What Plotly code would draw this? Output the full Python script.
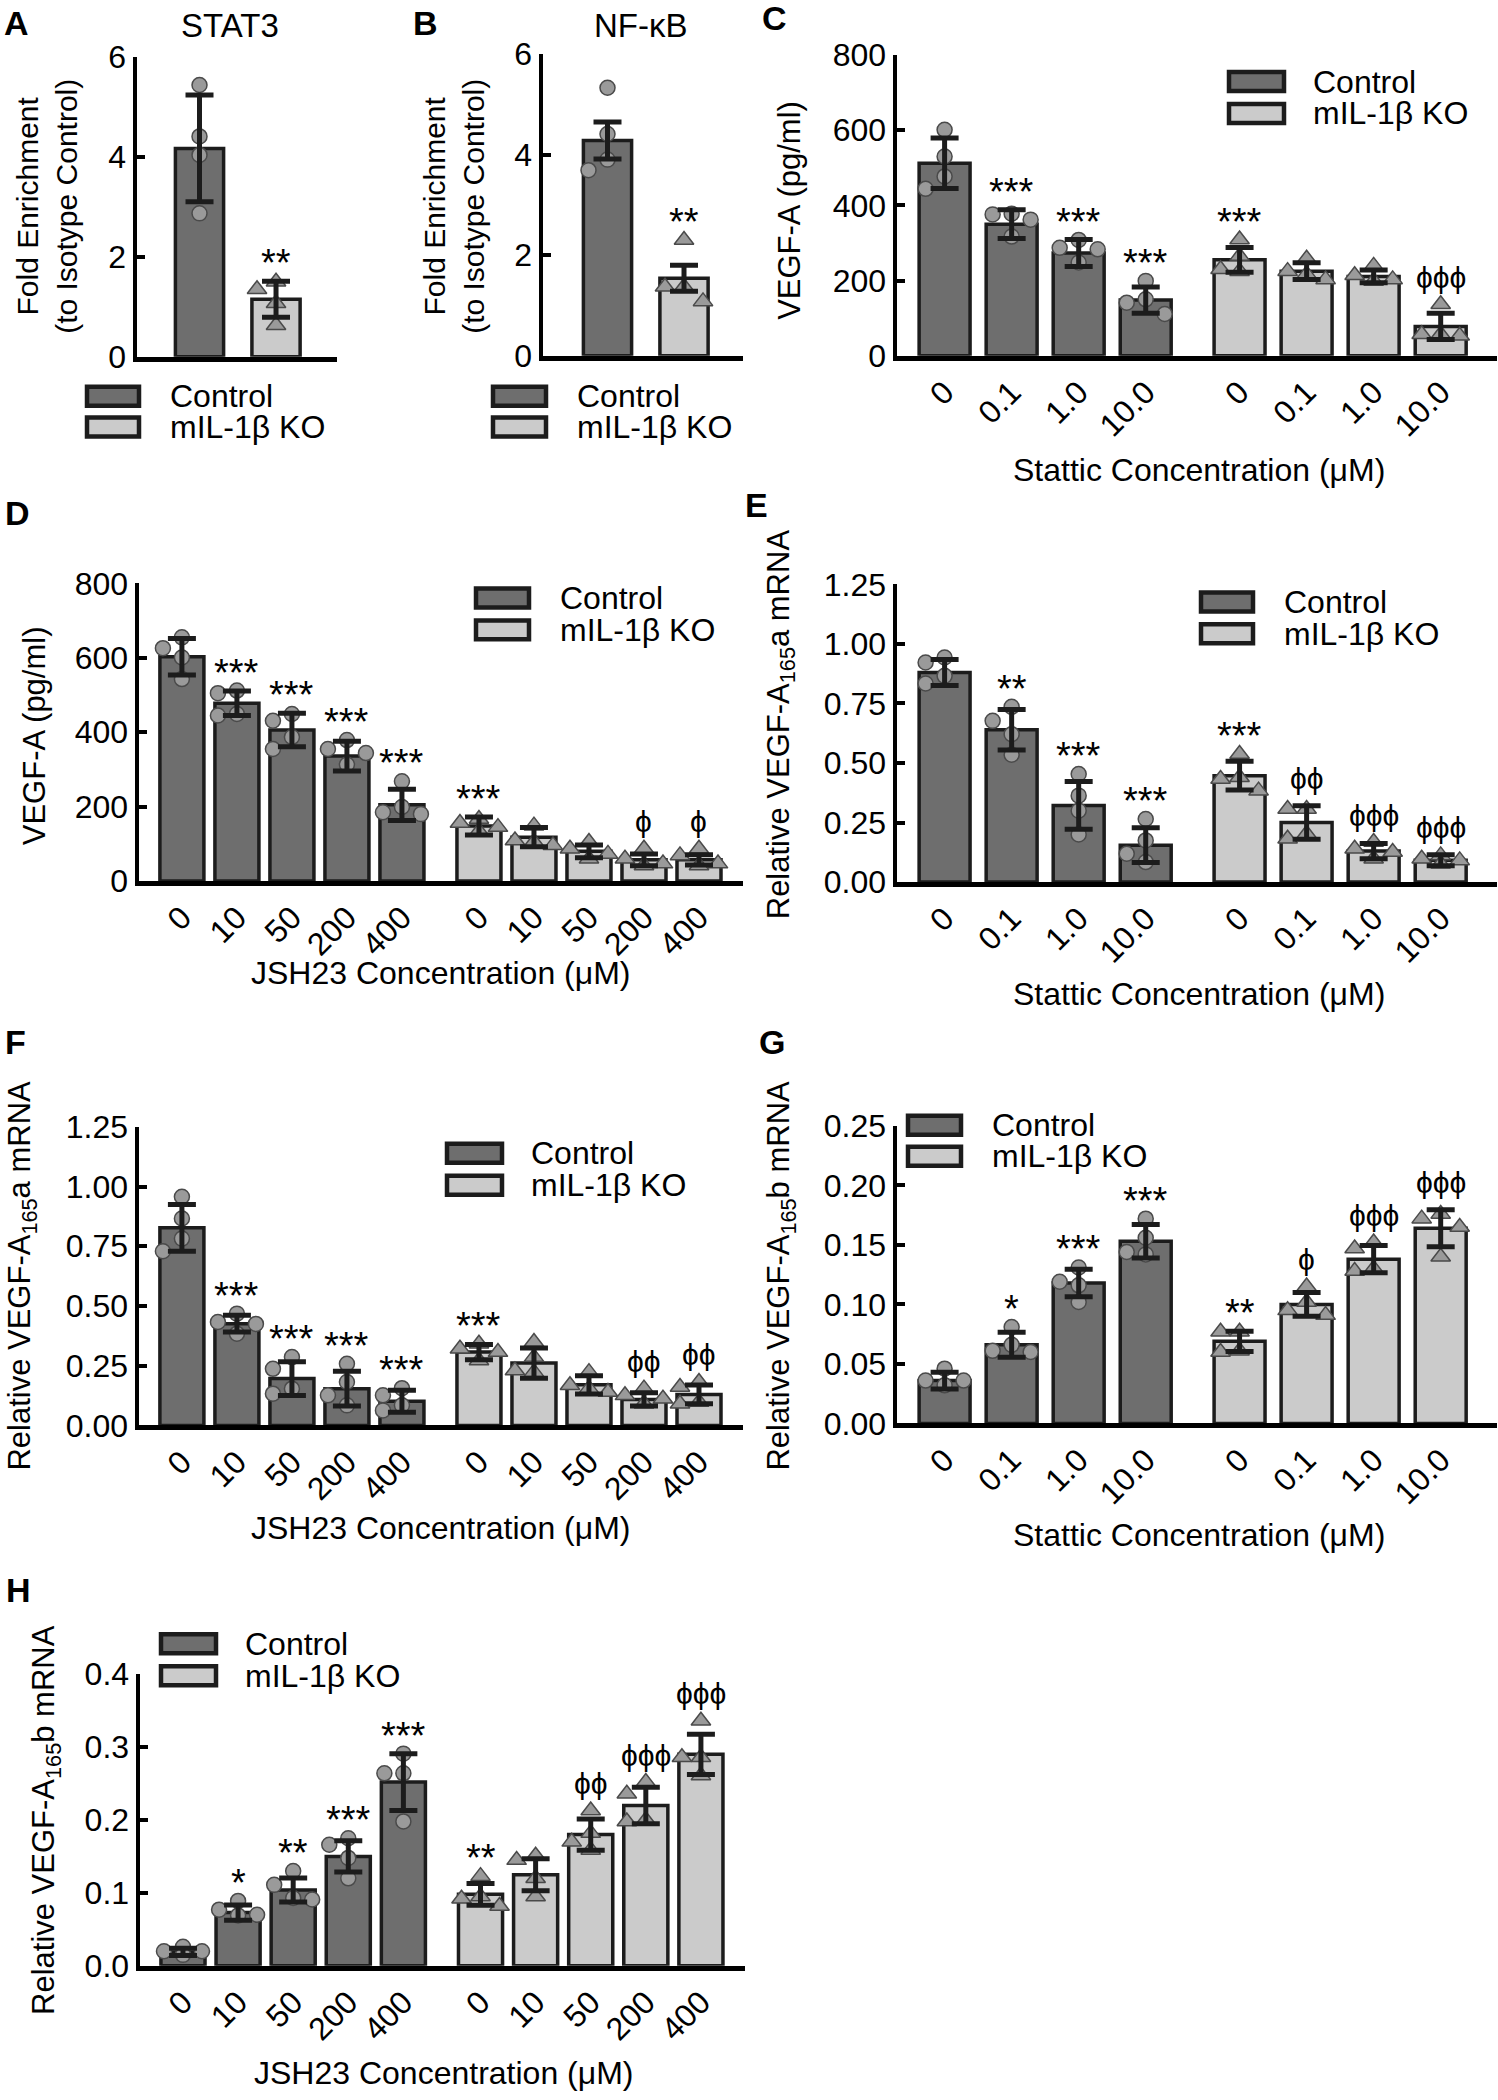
import plotly.graph_objects as go

W, H = 1498, 2100
FONT = "Liberation Sans, Arial, DejaVu Sans, sans-serif"

# ------------------------------------------------------------------
# Values
# ------------------------------------------------------------------
groups = ["Control", "mIL-1β KO"]
stattic_ticks = ["0", "0.1", "1.0", "10.0"]
jsh23_ticks = ["0", "10", "50", "200", "400"]

yv_fold = [0, 2, 4, 6];                    yt_fold = ["0", "2", "4", "6"]
yv_pg = [0, 200, 400, 600, 800];           yt_pg = ["0", "200", "400", "600", "800"]
yv_a = [0, 0.25, 0.5, 0.75, 1.0, 1.25];    yt_a = ["0.00", "0.25", "0.50", "0.75", "1.00", "1.25"]
yv_g = [0, 0.05, 0.10, 0.15, 0.20, 0.25];  yt_g = ["0.00", "0.05", "0.10", "0.15", "0.20", "0.25"]
yv_h = [0, 0.1, 0.2, 0.3, 0.4];            yt_h = ["0.0", "0.1", "0.2", "0.3", "0.4"]

# A  STAT3
A_ctrl_mean = [4.17]; A_ctrl_sd = [1.07]; A_ctrl_pts = [[5.44, 4.41, 4.04, 2.87]]
A_ko_mean = [1.15];   A_ko_sd = [0.36];   A_ko_pts = [[1.35, 1.50, 1.07, 0.63]]
A_ctrl_sig = [""];    A_ko_sig = ["**"]

# B  NF-kB
B_ctrl_mean = [4.28]; B_ctrl_sd = [0.37]; B_ctrl_pts = [[5.33, 4.41, 3.90, 3.69]]
B_ko_mean = [1.54];   B_ko_sd = [0.26];   B_ko_pts = [[2.30, 1.37, 1.37, 1.08]]
B_ctrl_sig = [""];    B_ko_sig = ["**"]

# C  VEGF-A protein, Stattic
C_ctrl_mean = [512, 350, 273, 148]
C_ctrl_sd = [67, 38, 36, 35]
C_ctrl_pts = [[601, 530, 477, 444], [378, 376, 362, 317], [308, 287, 283, 248], [199, 150, 141, 111]]
C_ko_mean = [255, 225, 211, 78]
C_ko_sd = [33, 22, 17, 35]
C_ko_pts = [[309, 265, 230, 225], [258, 225, 217, 203], [239, 214, 203, 199], [137, 57, 57, 53]]
C_ctrl_sig = ["", "***", "***", "***"]
C_ko_sig = ["***", "", "", "ϕϕϕ"]

# D  VEGF-A protein, JSH23
D_ctrl_mean = [603, 478, 406, 336, 205]
D_ctrl_sd = [49, 33, 45, 40, 42]
D_ctrl_pts = [[655, 626, 601, 543], [512, 505, 449, 445], [449, 431, 387, 355],
              [379, 355, 344, 313], [268, 199, 185, 180]]
D_ko_mean = [148, 118, 80, 57, 57]
D_ko_sd = [24, 26, 17, 16, 14]
D_ko_pts = [[167, 156, 145, 134], [149, 109, 105, 96], [105, 87, 73, 60],
            [87, 60, 47, 42], [87, 69, 47, 42]]
D_ctrl_sig = ["", "***", "***", "***", "***"]
D_ko_sig = ["***", "", "", "ϕ", "ϕ"]

# E  VEGF-A165a mRNA, Stattic
E_ctrl_mean = [0.880, 0.640, 0.322, 0.155]
E_ctrl_sd = [0.055, 0.085, 0.100, 0.073]
E_ctrl_pts = [[0.943, 0.922, 0.866, 0.834], [0.736, 0.677, 0.621, 0.535],
              [0.454, 0.363, 0.300, 0.200], [0.265, 0.175, 0.119, 0.084]]
E_ko_mean = [0.447, 0.250, 0.130, 0.092]
E_ko_sd = [0.060, 0.070, 0.032, 0.023]
E_ko_pts = [[0.538, 0.440, 0.433, 0.384], [0.307, 0.307, 0.203, 0.182],
            [0.168, 0.140, 0.126, 0.098], [0.112, 0.098, 0.091, 0.077]]
E_ctrl_sig = ["", "**", "***", "***"]
E_ko_sig = ["***", "ϕϕ", "ϕϕϕ", "ϕϕϕ"]

# F  VEGF-A165a mRNA, JSH23
F_ctrl_mean = [0.827, 0.426, 0.196, 0.154, 0.101]
F_ctrl_sd = [0.098, 0.035, 0.071, 0.073, 0.046]
F_ctrl_pts = [[0.957, 0.866, 0.782, 0.729], [0.468, 0.433, 0.425, 0.384],
              [0.286, 0.237, 0.154, 0.133], [0.258, 0.182, 0.126, 0.084],
              [0.156, 0.126, 0.084, 0.063]]
F_ko_mean = [0.307, 0.261, 0.170, 0.109, 0.130]
F_ko_sd = [0.032, 0.063, 0.038, 0.028, 0.039]
F_ko_pts = [[0.342, 0.321, 0.307, 0.272], [0.349, 0.286, 0.230, 0.223],
            [0.223, 0.168, 0.154, 0.140], [0.154, 0.126, 0.112, 0.091],
            [0.182, 0.161, 0.098, 0.091]]
F_ctrl_sig = ["", "***", "***", "***", "***"]
F_ko_sig = ["***", "", "", "ϕϕ", "ϕϕ"]

# G  VEGF-A165b mRNA, Stattic
G_ctrl_mean = [0.036, 0.066, 0.118, 0.153]
G_ctrl_sd = [0.007, 0.0105, 0.0115, 0.014]
G_ctrl_pts = [[0.046, 0.036, 0.036, 0.032], [0.081, 0.066, 0.061, 0.060],
              [0.131, 0.119, 0.116, 0.102], [0.172, 0.156, 0.144, 0.142]]
G_ko_mean = [0.069, 0.100, 0.138, 0.164]
G_ko_sd = [0.0085, 0.010, 0.0115, 0.0155]
G_ko_pts = [[0.077, 0.077, 0.061, 0.060], [0.115, 0.102, 0.095, 0.091],
            [0.152, 0.147, 0.130, 0.128], [0.176, 0.172, 0.165, 0.140]]
G_ctrl_sig = ["", "*", "***", "***"]
G_ko_sig = ["**", "ϕ", "ϕϕϕ", "ϕϕϕ"]

# H  VEGF-A165b mRNA, JSH23
H_ctrl_mean = [0.019, 0.073, 0.104, 0.150, 0.252]
H_ctrl_sd = [0.005, 0.0105, 0.0165, 0.0215, 0.039]
H_ctrl_pts = [[0.026, 0.020, 0.020, 0.015], [0.089, 0.077, 0.070, 0.069],
              [0.130, 0.111, 0.093, 0.091], [0.175, 0.166, 0.148, 0.120],
              [0.291, 0.264, 0.264, 0.198]]
H_ko_mean = [0.098, 0.125, 0.180, 0.220, 0.290]
H_ko_sd = [0.015, 0.022, 0.0215, 0.025, 0.0275]
H_ko_pts = [[0.123, 0.095, 0.092, 0.082], [0.151, 0.145, 0.120, 0.095],
            [0.213, 0.182, 0.170, 0.159], [0.252, 0.236, 0.200, 0.198],
            [0.336, 0.286, 0.286, 0.261]]
H_ctrl_sig = ["", "*", "**", "***", "***"]
H_ko_sig = ["**", "", "ϕϕ", "ϕϕϕ", "ϕϕϕ"]

# ------------------------------------------------------------------
# Styling / layout
# ------------------------------------------------------------------
CTRL_FILL = "#6e6e6e"
KO_FILL = "#cbcbcb"
PT_FILL = "#9a9a9a"
PT_LINE = "#4a4a4a"
EDGE = "#1c1c1c"

TICK_SIZE = 32
TEXT_SIZE = 32

YT_A = "Relative VEGF-A<sub>165</sub>a mRNA"
YT_B = "Relative VEGF-A<sub>165</sub>b mRNA"

st4 = [0, 1, 2, 3]
st4k = [4.4, 5.4, 6.4, 7.4]
js5 = [0, 1, 2, 3, 4]
js5k = [5.4, 6.4, 7.4, 8.4, 9.4]

panels = [
    dict(letter="A", letter_xy=(16, 23), title="STAT3", title_xy=(230, 25),
         box=(137, 337, 57, 357), yr=(0, 6), yv=yv_fold, yt=yt_fold,
         cx=[0], kx=[1], xr=(-0.817, 1.797), bw=0.63, xt=None,
         data=(A_ctrl_mean, A_ctrl_sd, A_ctrl_pts, A_ko_mean, A_ko_sd, A_ko_pts, A_ctrl_sig, A_ko_sig),
         ytitle="Fold Enrichment<br>(to Isotype Control)", ytitle_xy=(47, 207), ytsize=30,
         xtitle=None, legend=(87, 139, 387, 418, 168)),
    dict(letter="B", letter_xy=(425, 23), title="NF-κB", title_xy=(641, 25),
         box=(543, 743, 54, 356), yr=(0, 6), yv=yv_fold, yt=yt_fold,
         cx=[0], kx=[1], xr=(-0.843, 1.771), bw=0.63, xt=None,
         data=(B_ctrl_mean, B_ctrl_sd, B_ctrl_pts, B_ko_mean, B_ko_sd, B_ko_pts, B_ctrl_sig, B_ko_sig),
         ytitle="Fold Enrichment<br>(to Isotype Control)", ytitle_xy=(454, 207), ytsize=30,
         xtitle=None, legend=(493, 546, 387, 418, 575)),
    dict(letter="C", letter_xy=(774, 18), title=None,
         box=(897, 1497, 55, 356), yr=(0, 800), yv=yv_pg, yt=yt_pg,
         cx=st4, kx=st4k, xr=(-0.71, 8.24), bw=0.76, xt=stattic_ticks,
         data=(C_ctrl_mean, C_ctrl_sd, C_ctrl_pts, C_ko_mean, C_ko_sd, C_ko_pts, C_ctrl_sig, C_ko_sig),
         ytitle="VEGF-A (pg/ml)", ytitle_xy=(790, 211), ytsize=31,
         xtitle="Stattic Concentration (μM)", xtitle_xy=(1199, 470),
         legend=(1229, 1284, 72, 104, 1311)),
    dict(letter="D", letter_xy=(17, 513), title=None,
         box=(139, 743, 584, 882), yr=(0, 800), yv=yv_pg, yt=yt_pg,
         cx=js5, kx=js5k, xr=(-0.78, 10.2), bw=0.8, xt=jsh23_ticks,
         data=(D_ctrl_mean, D_ctrl_sd, D_ctrl_pts, D_ko_mean, D_ko_sd, D_ko_pts, D_ctrl_sig, D_ko_sig),
         ytitle="VEGF-A (pg/ml)", ytitle_xy=(34, 737), ytsize=31,
         xtitle="JSH23 Concentration (μM)", xtitle_xy=(441, 974),
         legend=(476, 529, 589, 621, 558)),
    dict(letter="E", letter_xy=(757, 505), title=None,
         box=(897, 1497, 585, 883), yr=(0, 1.25), yv=yv_a, yt=yt_a,
         cx=st4, kx=st4k, xr=(-0.71, 8.24), bw=0.76, xt=stattic_ticks,
         data=(E_ctrl_mean, E_ctrl_sd, E_ctrl_pts, E_ko_mean, E_ko_sd, E_ko_pts, E_ctrl_sig, E_ko_sig),
         ytitle=YT_A, ytitle_xy=(781, 725), ytsize=31,
         xtitle="Stattic Concentration (μM)", xtitle_xy=(1199, 995),
         legend=(1201, 1253, 593, 625, 1282)),
    dict(letter="F", letter_xy=(15, 1043), title=None,
         box=(139, 743, 1128, 1427), yr=(0, 1.25), yv=yv_a, yt=yt_a,
         cx=js5, kx=js5k, xr=(-0.78, 10.2), bw=0.8, xt=jsh23_ticks,
         data=(F_ctrl_mean, F_ctrl_sd, F_ctrl_pts, F_ko_mean, F_ko_sd, F_ko_pts, F_ctrl_sig, F_ko_sig),
         ytitle=YT_A, ytitle_xy=(22, 1277), ytsize=31,
         xtitle="JSH23 Concentration (μM)", xtitle_xy=(441, 1530),
         legend=(447, 502, 1145, 1177, 529)),
    dict(letter="G", letter_xy=(772, 1043), title=None,
         box=(897, 1497, 1127, 1425), yr=(0, 0.25), yv=yv_g, yt=yt_g,
         cx=st4, kx=st4k, xr=(-0.71, 8.24), bw=0.76, xt=stattic_ticks,
         data=(G_ctrl_mean, G_ctrl_sd, G_ctrl_pts, G_ko_mean, G_ko_sd, G_ko_pts, G_ctrl_sig, G_ko_sig),
         ytitle=YT_B, ytitle_xy=(781, 1277), ytsize=31,
         xtitle="Stattic Concentration (μM)", xtitle_xy=(1199, 1537),
         legend=(908, 961, 1117, 1148, 990)),
    dict(letter="H", letter_xy=(18, 1592), title=None,
         box=(140, 745, 1676, 1968), yr=(0, 0.4), yv=yv_h, yt=yt_h,
         cx=js5, kx=js5k, xr=(-0.78, 10.2), bw=0.8, xt=jsh23_ticks,
         data=(H_ctrl_mean, H_ctrl_sd, H_ctrl_pts, H_ko_mean, H_ko_sd, H_ko_pts, H_ctrl_sig, H_ko_sig),
         ytitle=YT_B, ytitle_xy=(46, 1822), ytsize=31,
         xtitle="JSH23 Concentration (μM)", xtitle_xy=(443, 2075),
         legend=(161, 216, 1636, 1668, 243)),
]

# The captured picture shows the page very slightly squeezed vertically
# (about 1.6 % about y~1120); pre-compensate target pixel rows.
SQ_C, SQ_S = 1120.0, 0.984


def P(x):
    return x / W


def Q(y):
    yy = SQ_C + (y - SQ_C) / SQ_S
    return 1 - yy / H


def swarm(vals, ypx, xpx, step_px=19.0, thr_px=15.0):
    """Column beeswarm limited to three columns; returns x offsets (data units)."""
    order = sorted(range(len(vals)), key=lambda i: -vals[i])
    cols = {-1: [], 0: [], 1: []}
    offs = [0.0] * len(vals)
    for i in order:
        y = vals[i] * ypx
        best, best_gap = 0, -1.0
        for c in (0, -1, 1):
            gap = min([abs(y - yy) for yy in cols[c]] + [1e9])
            if gap >= thr_px:
                best = c
                break
            if gap > best_gap:
                best, best_gap = c, gap
        cols[best].append(y)
        offs[i] = best * step_px / xpx
    return offs


fig = go.Figure()
layout = {}
annotations = []
shapes = []

for idx, pn in enumerate(panels, start=1):
    xa = "x" if idx == 1 else f"x{idx}"
    ya = "y" if idx == 1 else f"y{idx}"
    xname = "xaxis" if idx == 1 else f"xaxis{idx}"
    yname = "yaxis" if idx == 1 else f"yaxis{idx}"
    x0, x1, yt, yb = pn["box"]
    xpx = (x1 - x0) / (pn["xr"][1] - pn["xr"][0])
    ypx = (yb - yt) / (pn["yr"][1] - pn["yr"][0])

    cm, csd, cpts, km, ksd, kpts, csig, ksig = pn["data"]

    # bars
    for xs, means, fill in ((pn["cx"], cm, CTRL_FILL), (pn["kx"], km, KO_FILL)):
        fig.add_trace(go.Bar(x=xs, y=means, width=pn["bw"], xaxis=xa, yaxis=ya,
                             marker=dict(color=fill, line=dict(color=EDGE, width=3.5)),
                             showlegend=False, hoverinfo="skip"))
    # individual points
    for xs, ptsets, sym, size in ((pn["cx"], cpts, "circle", 15), (pn["kx"], kpts, "triangle-up", 17)):
        px_, py_ = [], []
        for xc, pts in zip(xs, ptsets):
            offs = swarm(pts, ypx, xpx)
            for v, o in zip(pts, offs):
                px_.append(xc + o)
                py_.append(v)
        fig.add_trace(go.Scatter(x=px_, y=py_, mode="markers", xaxis=xa, yaxis=ya,
                                 marker=dict(symbol=sym, size=size, color=PT_FILL,
                                             line=dict(color=PT_LINE, width=1.5)),
                                 cliponaxis=False, showlegend=False, hoverinfo="skip"))
    # error bars (drawn on top of the points)
    for xs, means, sds in ((pn["cx"], cm, csd), (pn["kx"], km, ksd)):
        fig.add_trace(go.Scatter(x=xs, y=means, mode="markers", xaxis=xa, yaxis=ya,
                                 marker=dict(size=1, color="rgba(0,0,0,0)"),
                                 error_y=dict(type="data", array=sds, visible=True,
                                              color=EDGE, thickness=5, width=14),
                                 showlegend=False, hoverinfo="skip"))
    # significance labels
    for xs, means, sds, ptsets, sigs in ((pn["cx"], cm, csd, cpts, csig), (pn["kx"], km, ksd, kpts, ksig)):
        for xc, m, s, pts, lab in zip(xs, means, sds, ptsets, sigs):
            if not lab:
                continue
            top = max(m + s, max(pts))
            is_phi = "ϕ" in lab
            annotations.append(dict(
                x=xc, y=top, xref=xa, yref=ya, text=lab, showarrow=False,
                xanchor="center", yanchor="middle",
                yshift=27 if is_phi else 18,
                font=dict(size=30 if is_phi else 38, color="black", family=FONT)))

    # axes
    layout[xname] = dict(domain=[P(x0), P(x1)], range=list(pn["xr"]), anchor=ya,
                         showline=True, linewidth=5, linecolor="black", ticks="",
                         showgrid=False, zeroline=False, fixedrange=True,
                         tickvals=(pn["cx"] + pn["kx"]) if pn["xt"] else [],
                         ticktext=(pn["xt"] + pn["xt"]) if pn["xt"] else [],
                         showticklabels=bool(pn["xt"]), tickangle=-45,
                         tickfont=dict(size=TICK_SIZE, color="black", family=FONT))
    layout[yname] = dict(domain=[Q(yb), Q(yt)], range=list(pn["yr"]), anchor=xa,
                         showline=True, linewidth=4.5, linecolor="black",
                         ticks="inside", ticklen=8, tickwidth=4, tickcolor="black",
                         tickvals=pn["yv"], ticktext=pn["yt"],
                         showgrid=False, zeroline=False, fixedrange=True,
                         tickfont=dict(size=TICK_SIZE, color="black", family=FONT))

    # panel letter
    lx, ly = pn["letter_xy"]
    annotations.append(dict(x=P(lx), y=Q(ly), xref="paper", yref="paper", text=f"<b>{pn['letter']}</b>",
                            showarrow=False, xanchor="center", yanchor="middle",
                            font=dict(size=34, color="black", family=FONT)))
    if pn.get("title"):
        tx, ty = pn["title_xy"]
        annotations.append(dict(x=P(tx), y=Q(ty), xref="paper", yref="paper", text=pn["title"],
                                showarrow=False, xanchor="center", yanchor="middle",
                                font=dict(size=33, color="black", family=FONT)))
    # y title
    tx, ty = pn["ytitle_xy"]
    annotations.append(dict(x=P(tx), y=Q(ty), xref="paper", yref="paper", text=pn["ytitle"],
                            showarrow=False, xanchor="center", yanchor="middle", textangle=-90,
                            font=dict(size=pn["ytsize"], color="black", family=FONT)))
    # x title
    if pn.get("xtitle"):
        tx, ty = pn["xtitle_xy"]
        annotations.append(dict(x=P(tx), y=Q(ty), xref="paper", yref="paper", text=pn["xtitle"],
                                showarrow=False, xanchor="center", yanchor="middle",
                                font=dict(size=TEXT_SIZE, color="black", family=FONT)))
    # legend (box + label)
    bx0, bx1, by1, by2, txx = pn["legend"]
    bh = 19
    for (by, fill, name) in ((by1, CTRL_FILL, groups[0]), (by2, KO_FILL, groups[1])):
        shapes.append(dict(type="rect", xref="paper", yref="paper",
                           x0=P(bx0), x1=P(bx1), y0=Q(by + bh), y1=Q(by),
                           fillcolor=fill, line=dict(color=EDGE, width=4.5)))
        annotations.append(dict(x=P(txx), y=Q(by + bh / 2), xref="paper", yref="paper", text=name,
                                showarrow=False, xanchor="left", yanchor="middle",
                                font=dict(size=TEXT_SIZE, color="black", family=FONT)))

fig.update_layout(**layout)
fig.update_layout(width=W, height=H, autosize=False,
                  margin=dict(l=0, r=0, t=0, b=0, pad=0),
                  paper_bgcolor="white", plot_bgcolor="white",
                  barmode="overlay", showlegend=False,
                  font=dict(family=FONT, color="black"),
                  annotations=annotations, shapes=shapes)

PIN = ("document.documentElement.style.margin='0px';"
       "document.body.style.margin='0px';"
       "document.body.style.overflow='hidden';"
       "var gd=document.getElementsByClassName('plotly-graph-div')[0];"
       "gd.style.position='absolute';gd.style.left='0px';gd.style.top='0px';")

fig.write_html("out.html", config={"displayModeBar": False, "staticPlot": True},
               post_script=PIN)
